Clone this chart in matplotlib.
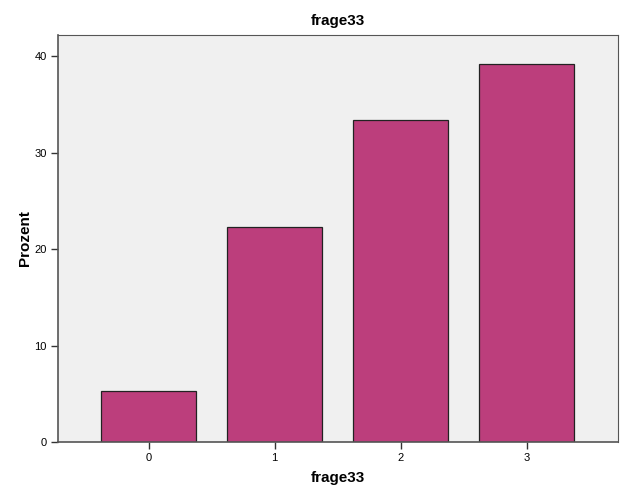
import matplotlib
matplotlib.use("Agg")
import matplotlib.pyplot as plt

categories = ["0", "1", "2", "3"]
percent = [5.25, 22.25, 33.35, 39.25]
y_ticks = [0, 10, 20, 30, 40]

plt.rcParams["font.family"] = ["Liberation Sans", "DejaVu Sans"]

fig = plt.figure(figsize=(6.26, 5.01), dpi=100)
ax = fig.add_axes([0.0927, 0.1178, 0.8943, 0.8122])
ax.set_facecolor("#f0f0f0")

x = list(range(len(categories)))
ax.bar(x, percent, width=0.75, color="#bc3e7c", edgecolor="#222222", linewidth=0.9)

ax.set_xlim(-0.72, 3.725)
ax.set_ylim(0, 42.2)
ax.set_xticks(x)
ax.set_xticklabels(categories)
ax.set_yticks(y_ticks)
ax.tick_params(axis="both", labelsize=8, length=5, width=1, color="#333333", pad=3)

for side in ["left", "bottom"]:
    ax.spines[side].set_color("#555555")
    ax.spines[side].set_linewidth(1.2)
for side in ["top", "right"]:
    ax.spines[side].set_color("#555555")
    ax.spines[side].set_linewidth(0.8)

ax.set_title("frage33", fontsize=11, fontweight="bold", pad=7)
ax.set_xlabel("frage33", fontsize=11, fontweight="bold", labelpad=6)
ax.set_ylabel("Prozent", fontsize=11, fontweight="bold", labelpad=2)

fig.savefig("out.png", dpi=100)
